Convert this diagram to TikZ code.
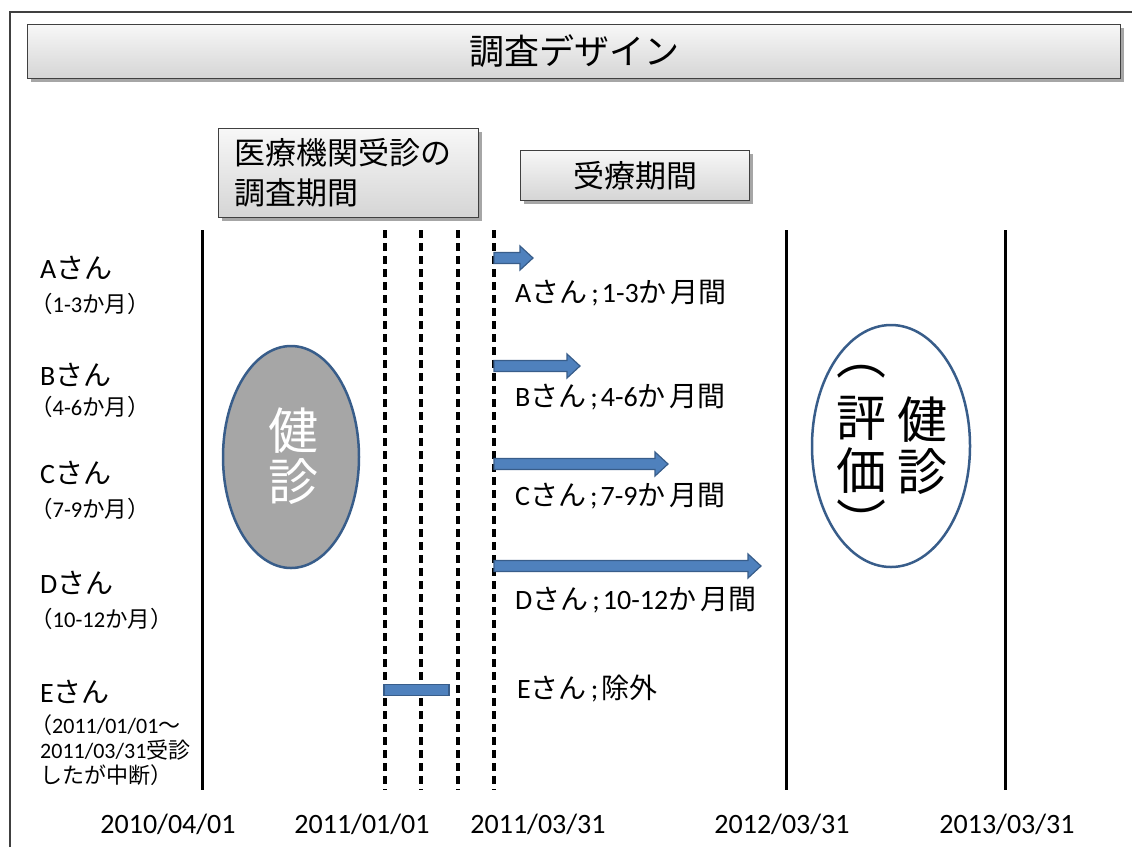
\documentclass[tikz,border=0pt]{standalone}
\usepackage{fontspec}
\setmainfont{Noto Sans CJK JP}
\newfontfamily\lat{Carlito}
\usetikzlibrary{shapes.geometric,shadows}
\definecolor{arrfill}{HTML}{4F81BD}
\definecolor{arrdraw}{HTML}{385D8A}
\definecolor{ellgray}{HTML}{A6A6A6}
\definecolor{framecol}{HTML}{404040}
\newcommand\blockarrow[4]{%
  \coordinate (#1s) at (#2,#4);
  \coordinate (#1e) at (#3,#4);
  \filldraw[blockarr] (#2,#4-5.5) -- (#3-13,#4-5.5) -- (#3-13,#4-12) -- (#1e) -- (#3-13,#4+12) -- (#3-13,#4+5.5) -- (#2,#4+5.5) -- cycle;}
\begin{document}
\begin{tikzpicture}[x=1pt,y=-1pt,
  hdr/.style={draw=black!75, line width=1, top color=gray!6, bottom color=gray!33,
    drop shadow={shadow xshift=3pt,shadow yshift=-3pt,fill=black,opacity=0.35},
    inner sep=0, anchor=north west},
  solidln/.style={line width=3},
  dashln/.style={line width=3.4, dash pattern=on 8pt off 5pt},
  blockarr/.style={fill=arrfill, draw=arrdraw, line width=1.2, line join=miter},
  lbl/.style={anchor=base west, inner sep=0, font=\fontsize{28}{32}\selectfont},
  sublbl/.style={anchor=base west, inner sep=0, font=\fontsize{22.5}{26}\selectfont},
  esub/.style={anchor=base west, inner sep=0, font=\fontsize{22}{25}\selectfont},
  datelbl/.style={anchor=base, inner sep=0, font=\lat\fontsize{28}{32}\selectfont},
  bigch/.style={inner sep=0, font=\fontsize{50}{52}\selectfont}]
\useasboundingbox (0,0) rectangle (1132,847);
\fill[white] (0,0) rectangle (1132,847);
% frame
\draw[framecol, line width=1.5] (10,847) -- (10,12) -- (1132,12);
% header boxes
\node[hdr, minimum width=1093, minimum height=54, font=\fontsize{35}{40}\selectfont] (title) at (27,24) {調査デザイン};
\node[hdr, minimum width=260, minimum height=89, text width=228, align=left, font=\fontsize{31}{40}\selectfont] (b1) at (218,128) {医療機関受診の\\調査期間};
\node[hdr, minimum width=229, minimum height=50, font=\fontsize{31}{36}\selectfont] (b2) at (520,150) {受療期間};
% vertical lines
\draw[solidln] (202,230) -- (202,790);
\draw[solidln] (786,230) -- (786,790);
\draw[solidln] (1005,230) -- (1005,790);
\draw[dashln] (385,230) -- (385,790);
\draw[dashln] (421,230) -- (421,790);
\draw[dashln] (458,230) -- (458,790);
\draw[dashln] (494,230) -- (494,790);
% arrows
\blockarrow{aa}{494}{533}{258}
\blockarrow{ab}{494}{580}{366}
\blockarrow{ac}{494}{668}{464}
\blockarrow{ad}{494}{761}{566}
\filldraw[blockarr] (384,684.5) rectangle (449,695.5);
% ellipses
\node[ellipse, fill=ellgray, draw=arrdraw, line width=2.5, minimum width=136, minimum height=222, inner sep=0] (eg) at (291,457) {};
\node[bigch, text=white] (eg1) at (293,431) {健};
\node[bigch, text=white] (eg2) at (293,482) {診};
\node[ellipse, fill=white, draw=arrdraw, line width=2.5, minimum width=158, minimum height=242, inner sep=0] (ew) at (891,446) {};
\node[bigch] (ew1) at (922,420) {健};
\node[bigch] (ew2) at (922,472) {診};
\node[bigch] (ew3) at (861,418) {評};
\node[bigch] (ew4) at (861,471) {価};
\node[bigch] (ew5) at (861,372) {︵};
\node[bigch] (ew6) at (861,521) {︶};
% left labels
\node[lbl] (la) at (40,278) {{\lat A}さん};
\node[sublbl] (lsa) at (30,312) {（{\lat 1-3}か月）};
\node[lbl] (lb) at (40,385) {{\lat B}さん};
\node[sublbl] (lsb) at (30,415) {（{\lat 4-6}か月）};
\node[lbl] (lc) at (40,483) {{\lat C}さん};
\node[sublbl] (lsc) at (30,517) {（{\lat 7-9}か月）};
\node[lbl] (ld) at (40,593) {{\lat D}さん};
\node[sublbl] (lsd) at (30,627) {（{\lat 10-12}か月）};
\node[lbl] (le) at (40,702) {{\lat E}さん};
\node[esub] (lse1) at (30,733) {（{\lat 2011/01/01}～};
\node[esub] (lse2) at (40,758) {{\lat 2011/03/31}受診};
\node[esub] (lse3) at (40,783) {したが中断）};
% right labels
\node[lbl] (ra) at (515,302) {{\lat A}さん\hspace{4pt}{\lat ;}\hspace{3pt}{\lat 1-3}か\hspace{4pt}月間};
\node[lbl] (rb) at (515,406) {{\lat B}さん\hspace{4pt}{\lat ;}\hspace{3pt}{\lat 4-6}か\hspace{4pt}月間};
\node[lbl] (rc) at (515,505) {{\lat C}さん\hspace{4pt}{\lat ;}\hspace{3pt}{\lat 7-9}か\hspace{4pt}月間};
\node[lbl] (rd) at (515,609) {{\lat D}さん\hspace{4pt}{\lat ;}\hspace{3pt}{\lat 10-12}か\hspace{4pt}月間};
\node[lbl] (re) at (517,698) {{\lat E}さん\hspace{4pt}{\lat ;}\hspace{3pt}除外};
% dates
\node[datelbl] (d1) at (168,833) {2010/04/01};
\node[datelbl] (d2) at (362,833) {2011/01/01};
\node[datelbl] (d3) at (538,833) {2011/03/31};
\node[datelbl] (d4) at (782,833) {2012/03/31};
\node[datelbl] (d5) at (1007,833) {2013/03/31};
\end{tikzpicture}
\end{document}
